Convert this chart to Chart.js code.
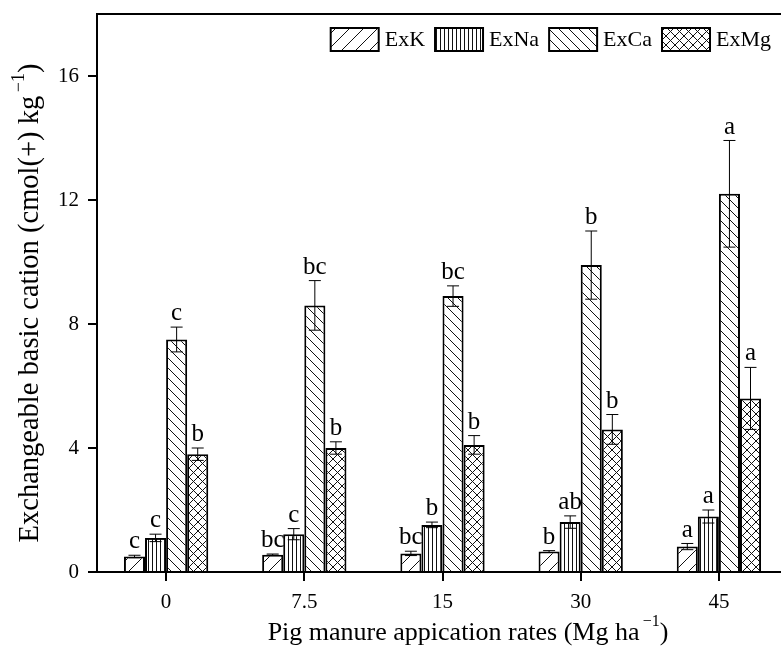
<!DOCTYPE html>
<html>
<head>
<meta charset="utf-8">
<script src="https://cdn.jsdelivr.net/npm/chart.js@4/dist/chart.umd.min.js"></script>
<style>
  html, body { margin: 0; padding: 0; background: #fff; overflow: hidden; }
  canvas { display: block; }
</style>
</head>
<body>
<canvas id="chart" width="800" height="646"></canvas>
<script>
// pig manure rates vs exchangeable cations
const rates = ['0', '7.5', '15', '30', '45'];

const exK = [0.5, 0.56, 0.6, 0.66, 0.82];
const exKErr = [0.04, 0.02, 0.07, 0.03, 0.1];
const exKLetters = ['c', 'bc', 'bc', 'b', 'a'];

const exNa = [1.1, 1.22, 1.52, 1.61, 1.79];
const exNaErr = [0.12, 0.18, 0.09, 0.2, 0.21];
const exNaLetters = ['c', 'c', 'b', 'ab', 'a'];

const exCa = [7.5, 8.6, 8.9, 9.9, 12.2];
const exCaErr = [0.4, 0.8, 0.33, 1.1, 1.72];
const exCaLetters = ['c', 'bc', 'bc', 'b', 'a'];

const exMg = [3.8, 4.0, 4.1, 4.6, 5.6];
const exMgErr = [0.2, 0.2, 0.3, 0.48, 1.0];
const exMgLetters = ['b', 'b', 'b', 'b', 'a'];

// axis titles: [text, isSuperscript]
const xTitle = [['Pig manure appication rates (Mg ha', false], ['\u2009\u22121', true], [')', false]];
const yTitle = [['Exchangeable basic cation (cmol(+) kg', false], ['\u2009\u22121', true], [')', false]];

const FONT = "'Liberation Serif', 'Times New Roman', serif";

// hatch fills
function hatch(kind) {
  const sizes = { fwd: 14, vert: 4, back: 10, cross: 9 };
  const s = sizes[kind];
  const c = document.createElement('canvas');
  c.width = s; c.height = s;
  const g = c.getContext('2d');
  g.fillStyle = '#fff';
  g.fillRect(0, 0, s, s);
  g.strokeStyle = '#111';
  g.lineWidth = 1;
  g.beginPath();
  if (kind === 'vert') {
    g.moveTo(0.5, 0); g.lineTo(0.5, s);
  }
  if (kind === 'fwd' || kind === 'cross') {
    g.moveTo(-1, s + 1); g.lineTo(s + 1, -1);
    g.moveTo(-1, 1); g.lineTo(1, -1);
    g.moveTo(s - 1, s + 1); g.lineTo(s + 1, s - 1);
  }
  if (kind === 'back' || kind === 'cross') {
    g.moveTo(-1, -1); g.lineTo(s + 1, s + 1);
    g.moveTo(s - 1, -1); g.lineTo(s + 1, 1);
    g.moveTo(-1, s - 1); g.lineTo(1, s + 1);
  }
  g.stroke();
  return g.createPattern(c, 'repeat');
}

// text with a raised superscript, centred on (cx, cy)
function drawRich(ctx, parts, cx, cy, size, angle) {
  const supSize = Math.round(size * 0.62);
  const widths = parts.map(([t, sup]) => {
    ctx.font = (sup ? supSize : size) + 'px ' + FONT;
    return ctx.measureText(t).width;
  });
  const total = widths.reduce((a, b) => a + b, 0);
  ctx.save();
  ctx.translate(cx, cy);
  ctx.rotate(angle);
  ctx.fillStyle = '#000';
  ctx.textAlign = 'left';
  ctx.textBaseline = 'middle';
  let x = -total / 2;
  parts.forEach(([t, sup], i) => {
    ctx.font = (sup ? supSize : size) + 'px ' + FONT;
    ctx.fillText(t, x, sup ? -size * 0.42 : 0);
    x += widths[i];
  });
  ctx.restore();
}

const decorations = {
  id: 'decorations',
  afterDatasetsDraw(chart) {
    const { ctx, chartArea } = chart;
    const y = chart.scales.y;
    ctx.save();
    // top frame line
    ctx.strokeStyle = '#000';
    ctx.lineWidth = 2;
    ctx.beginPath();
    ctx.moveTo(chartArea.left, chartArea.top);
    ctx.lineTo(chartArea.right, chartArea.top);
    ctx.stroke();

    // error bars + significance letters
    ctx.lineWidth = 1;
    ctx.fillStyle = '#000';
    ctx.font = '25px ' + FONT;
    ctx.textAlign = 'center';
    ctx.textBaseline = 'bottom';
    chart.data.datasets.forEach((ds, i) => {
      const meta = chart.getDatasetMeta(i);
      meta.data.forEach((bar, j) => {
        const v = ds.data[j], e = ds.errors[j];
        const top = y.getPixelForValue(v + e);
        const bot = y.getPixelForValue(v - e);
        ctx.beginPath();
        ctx.moveTo(bar.x, top); ctx.lineTo(bar.x, bot);
        ctx.moveTo(bar.x - 6, top); ctx.lineTo(bar.x + 6, top);
        ctx.moveTo(bar.x - 6, bot); ctx.lineTo(bar.x + 6, bot);
        ctx.stroke();
        ctx.fillText(ds.letters[j], bar.x, top - 1);
      });
    });

    // legend row inside the plot, top right
    ctx.font = '22px ' + FONT;
    ctx.textAlign = 'left';
    ctx.textBaseline = 'middle';
    const boxW = 48, boxH = 23, gap = 6, itemGap = 10;
    const items = chart.data.datasets.map(ds => ({ ds, w: ctx.measureText(ds.label).width }));
    const total = items.reduce((s, it) => s + boxW + gap + it.w, 0) + itemGap * (items.length - 1);
    let x = chartArea.right - 17 - total;
    const top = chartArea.top + 14;
    items.forEach(it => {
      ctx.fillStyle = it.ds.backgroundColor;
      ctx.fillRect(x, top, boxW, boxH);
      ctx.lineWidth = 2;
      ctx.strokeStyle = '#000';
      ctx.strokeRect(x, top, boxW, boxH);
      ctx.fillStyle = '#000';
      ctx.fillText(it.ds.label, x + boxW + gap, top + boxH / 2 + 1);
      x += boxW + gap + it.w + itemGap;
    });
    ctx.restore();

    // axis titles
    drawRich(ctx, xTitle, chartArea.left + 371, chartArea.bottom + 61, 26, 0);
    drawRich(ctx, yTitle, 31, chartArea.top + 289, 28.5, -Math.PI / 2);
  }
};

function series(label, data, errors, letters, kind) {
  return {
    label: label,
    data: data,
    errors: errors,
    letters: letters,
    backgroundColor: hatch(kind),
    borderColor: '#000',
    borderWidth: 2,
    barPercentage: 1.0,
    categoryPercentage: 0.61
  };
}

Chart.defaults.font.family = FONT;
Chart.defaults.color = '#000';

new Chart(document.getElementById('chart'), {
  type: 'bar',
  data: {
    labels: rates,
    datasets: [
      series('ExK', exK, exKErr, exKLetters, 'fwd'),
      series('ExNa', exNa, exNaErr, exNaLetters, 'vert'),
      series('ExCa', exCa, exCaErr, exCaLetters, 'back'),
      series('ExMg', exMg, exMgErr, exMgLetters, 'cross')
    ]
  },
  options: {
    responsive: false,
    animation: false,
    layout: { padding: { top: 14, right: 12, bottom: 0, left: 0 } },
    scales: {
      x: {
        grid: { drawOnChartArea: false, offset: false, color: '#000', tickLength: 9, lineWidth: 2 },
        border: { color: '#000', width: 2 },
        ticks: { font: { size: 21 }, padding: 9, color: '#000' },
        afterFit: (scale) => {
          scale.height = 74;
          scale.paddingLeft = 0; scale.paddingRight = 0;
        }
      },
      y: {
        min: 0,
        max: 18,
        grid: { drawOnChartArea: false, color: '#000', tickLength: 9, lineWidth: 2 },
        border: { color: '#000', width: 2 },
        ticks: { stepSize: 4, includeBounds: false, font: { size: 21 }, padding: 9, color: '#000' },
        afterFit: (scale) => {
          scale.width = 97;
          scale.paddingTop = 0; scale.paddingBottom = 0;
        }
      }
    },
    plugins: {
      legend: { display: false },
      tooltip: { enabled: false }
    }
  },
  plugins: [decorations]
});
</script>
</body>
</html>
